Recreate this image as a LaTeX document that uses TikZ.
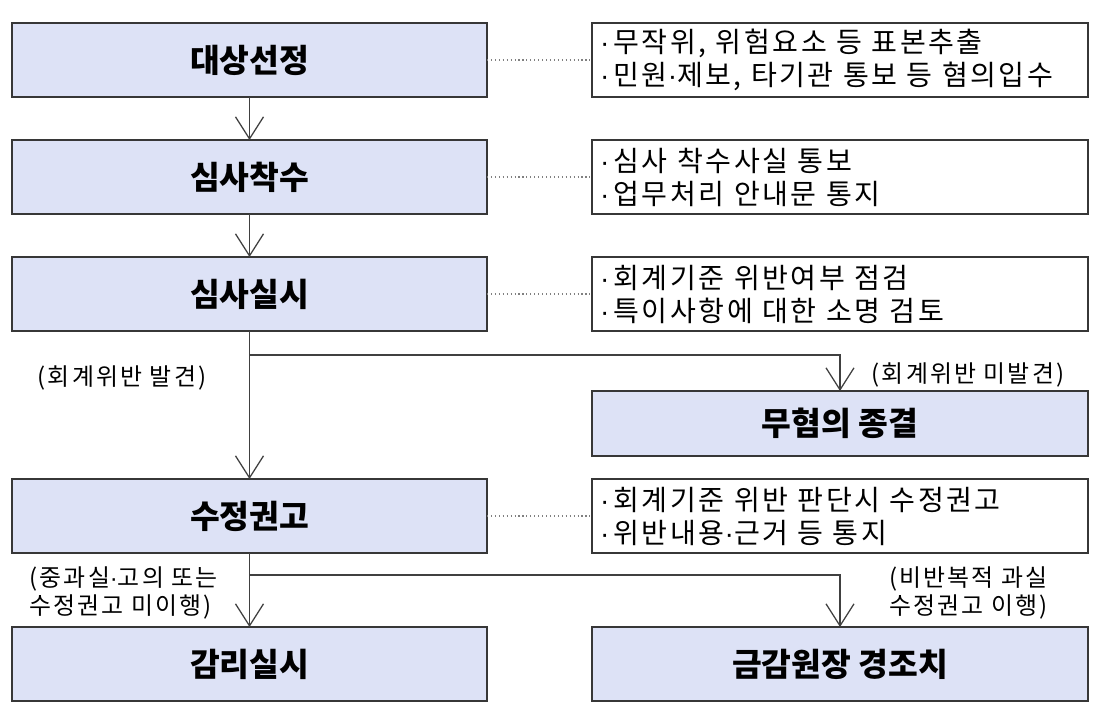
\documentclass[tikz,border=0pt]{standalone}
\usepackage{fontspec}
\setmainfont{Noto Sans CJK KR}
\newfontfamily\notefont[LetterSpace=9]{Noto Sans CJK KR}
\newfontfamily\dotfont{Liberation Sans}
\newcommand{\mdot}{{\dotfont ·}}
\newcommand{\bul}{\mdot\hspace{0.15em}}
\usetikzlibrary{arrows.meta, positioning, calc}
\definecolor{boxfill}{RGB}{221,226,246}
\definecolor{boxline}{RGB}{55,55,55}

\begin{document}
\begin{tikzpicture}[
  stage/.style={rectangle, draw=boxline, fill=boxfill, line width=1.3pt, outer sep=0pt, minimum width=11.875cm, minimum height=1.85cm, font=\fontsize{23pt}{27pt}\selectfont\bfseries},
  result/.style={stage, minimum width=12.4cm},
  note/.style={rectangle, draw=boxline, fill=white, line width=1.3pt, outer sep=0pt, text width=12.0cm, inner xsep=0.2cm, inner ysep=0.05cm, minimum height=1.85cm, align=left, font=\notefont\fontsize{20pt}{23.5pt}\selectfont},
  cond/.style={inner sep=0pt, align=left, font=\notefont\fontsize{17pt}{19.5pt}\selectfont},
  flow/.style={draw=black!75, line width=0.9pt, -{Straight Barb[length=0.55cm, width=0.7cm, line width=0.9pt]}},
  link/.style={draw=gray, line width=0.8pt, dotted},
  node distance=1.075cm]

      \useasboundingbox (0,0) rectangle (27.325,-17.6);

      % Linke Spalte
      \node[stage] (seonjeong) at (6.2375,-1.5) {대상선정};
      \node[stage, below=of seonjeong] (chaksu) {심사착수};
      \node[stage, below=of chaksu] (silsi) {심사실시};
      \node[stage, below=3.7cm of silsi] (gwongo) {수정권고};
      \node[stage, below=1.85cm of gwongo] (gamri) {감리실시};

      % Rechte Spalte
      \node[note, right=2.625cm of seonjeong] (note1) {\bul 무작위, 위험요소 등 표본추출\\\bul 민원\mdot 제보, 타기관 통보 등 혐의입수};
      \node[note, right=2.625cm of chaksu] (note2) {\bul 심사 착수사실 통보\\\bul 업무처리 안내문 통지};
      \node[note, right=2.625cm of silsi] (note3) {\bul 회계기준 위반여부 점검\\\bul 특이사항에 대한 소명 검토};
      \node[result, below=1.5cm of note3, minimum height=1.625cm] (muhyeom) {무혐의 종결};
      \node[note, right=2.625cm of gwongo] (note4) {\bul 회계기준 위반 판단시 수정권고\\\bul 위반내용\mdot 근거 등 통지};
      \node[result, right=2.625cm of gamri] (gyeong) {금감원장 경조치};

      % Punktierte Linien
      \draw[link] (seonjeong) -- (note1);
      \draw[link] (chaksu) -- (note2);
      \draw[link] (silsi) -- (note3);
      \draw[link] (gwongo) -- (note4);

      % Pfeile
      \draw[flow] (seonjeong) -- (chaksu);
      \draw[flow] (chaksu) -- (silsi);
      \draw[flow] (silsi) -- (gwongo);
      \draw[flow] (gwongo) -- (gamri);

      % Verzweigungen
      \coordinate[below=0.6cm of silsi] (split1);
      \coordinate[below=0.55cm of gwongo] (split2);
      \draw[flow] (split1) -| (muhyeom);
      \draw[flow] (split2) -| (gyeong);

      % Beschriftungen
      \node[cond] (found) at (3.05,-9.45) {(회계위반 발견)};
      \node[cond] (notfound) at (24.2,-9.375) {(회계위반 미발견)};
      \node[cond] (severe) at (3.09,-14.825) {(중과실\mdot 고의 또는\\수정권고 미이행)};
      \node[cond] (minor) at (24.21,-14.825) {(비반복적 과실\\수정권고 이행)};

\end{tikzpicture}
\end{document}
